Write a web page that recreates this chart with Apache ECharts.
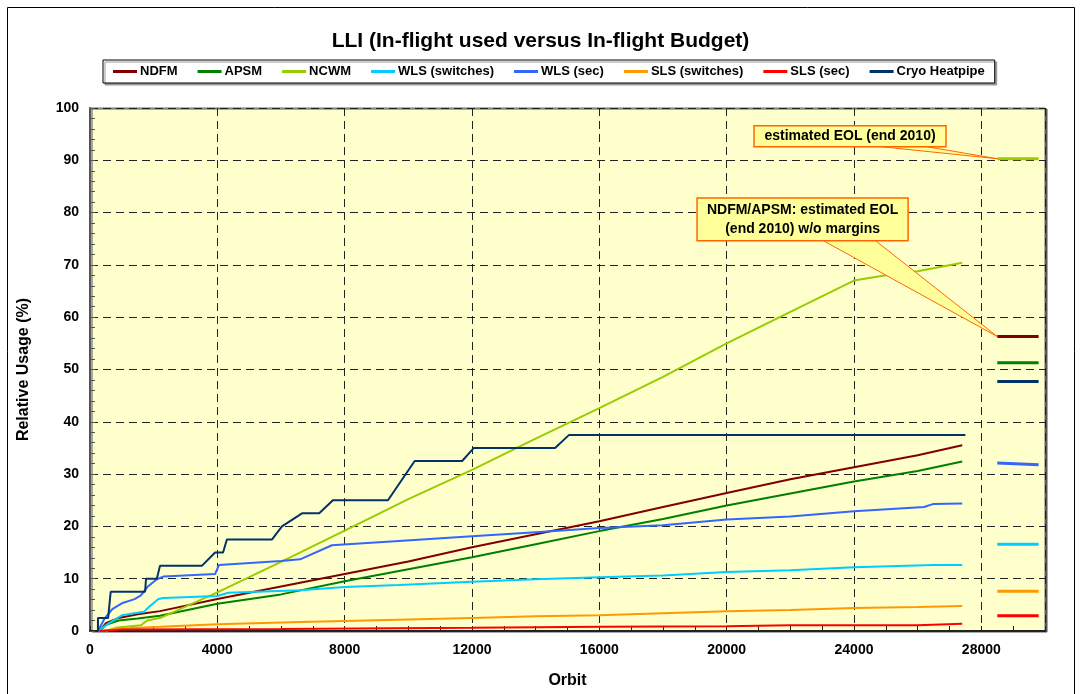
<!DOCTYPE html>
<html>
<head>
<meta charset="utf-8">
<script src="https://cdn.jsdelivr.net/npm/echarts@6/dist/echarts.min.js"></script>
<style>
  html, body { margin: 0; padding: 0; background: #fff; }
  #main { width: 1081px; height: 694px; }
</style>
</head>
<body>
<div id="main"></div>
<script>
// series names and colours (legend order)
const names = ['NDFM', 'APSM', 'NCWM', 'WLS (switches)', 'WLS (sec)', 'SLS (switches)', 'SLS (sec)', 'Cryo Heatpipe'];
const colors = ['#800000', '#008000', '#99CC00', '#00CCFF', '#3366FF', '#FF9900', '#FF0000', '#003366'];

// [orbit, relative usage %]
const ndfm = [[300, 0], [500, 1.5], [900, 2.5], [1500, 3.2], [2200, 3.8], [4000, 6.1], [6000, 8.5], [8000, 10.9], [10000, 13.3], [12000, 16], [14000, 18.5], [16000, 21], [18000, 23.7], [20000, 26.4], [22000, 29], [24000, 31.3], [26000, 33.6], [27400, 35.5]];
const apsm = [[300, 0], [500, 1.2], [900, 2.0], [1500, 2.4], [2200, 2.9], [4000, 5.2], [6000, 7.0], [8000, 9.5], [10000, 11.8], [12000, 14.1], [14000, 16.6], [16000, 19.1], [18000, 21.4], [20000, 24], [22000, 26.3], [24000, 28.6], [26000, 30.6], [27400, 32.4]];
const ncwm = [[500, 0], [800, 0.6], [1600, 1.1], [1800, 2.0], [2250, 2.6], [4000, 7.4], [6000, 13.2], [8000, 19.2], [10000, 25.2], [12000, 30.8], [14000, 36.8], [16000, 42.6], [18000, 48.6], [20000, 55], [22000, 61], [24000, 67], [25000, 68], [26000, 68.8], [27400, 70.4]];
const wlsSwitches = [[250, 0], [600, 1.5], [1000, 3.0], [1700, 3.7], [1850, 4.6], [2150, 6.1], [2300, 6.3], [4000, 6.7], [4350, 7.3], [6600, 7.8], [8000, 8.4], [9700, 8.8], [12000, 9.4], [14000, 9.9], [16000, 10.3], [18000, 10.6], [20000, 11.3], [22000, 11.6], [24000, 12.2], [26500, 12.6], [27400, 12.6]];
const wlsSec = [[250, 0], [450, 2.3], [700, 4.2], [1000, 5.3], [1400, 6.1], [1600, 6.8], [1800, 8.4], [2100, 9.9], [2300, 10.4], [3930, 10.9], [4050, 12.6], [6000, 13.4], [6600, 13.7], [7600, 16.4], [9700, 17.2], [12000, 18.1], [14000, 18.9], [16000, 19.7], [18000, 20.2], [20000, 21.3], [22000, 21.9], [24000, 22.9], [26200, 23.7], [26500, 24.3], [27400, 24.4]];
const slsSwitches = [[300, 0], [1000, 0.5], [2200, 0.8], [4000, 1.3], [6600, 1.7], [8000, 1.9], [10000, 2.2], [12000, 2.5], [14000, 2.8], [16000, 3.0], [18000, 3.4], [20000, 3.8], [22000, 4.0], [24000, 4.4], [26000, 4.6], [27400, 4.8]];
const slsSec = [[300, 0], [1000, 0.3], [6000, 0.4], [12000, 0.6], [16000, 0.8], [20000, 0.9], [22000, 1.1], [26000, 1.1], [27400, 1.4]];
const cryo = [[250, 0], [250, 2.5], [570, 2.5], [650, 7.5], [1730, 7.5], [1760, 10], [2100, 10], [2200, 12.5], [3520, 12.5], [3930, 15], [4180, 15], [4300, 17.5], [5720, 17.5], [6030, 20], [6660, 22.5], [7200, 22.5], [7630, 25], [9360, 25], [10200, 32.5], [11690, 32.5], [12060, 35], [14610, 35], [15050, 37.5], [27500, 37.5]];

const seriesData = [ndfm, apsm, ncwm, wlsSwitches, wlsSec, slsSwitches, slsSec, cryo];

// estimated EOL (end 2010) levels, drawn as short bars on the right
const eolOrbit = [28500, 29800];
const eolStart = [56.3, 51.3, 90.3, 16.6, 32.1, 7.6, 2.9, 47.7];
const eolEnd = [56.3, 51.3, 90.3, 16.6, 31.8, 7.6, 2.9, 47.7];

const font = 'Liberation Sans, Arial, sans-serif';

let myChart = echarts.init(document.getElementById('main'));

let series = [];
names.forEach(function (name, i) {
  series.push({
    name: name,
    type: 'line',
    data: seriesData[i],
    symbol: 'none',
    color: colors[i],
    lineStyle: { width: 2, color: colors[i] },
    animation: false
  });
});
names.forEach(function (name, i) {
  series.push({
    name: name,
    type: 'line',
    data: [[eolOrbit[0], eolStart[i]], [eolOrbit[1], eolEnd[i]]],
    symbol: 'none',
    color: colors[i],
    lineStyle: { width: 3, color: colors[i] },
    animation: false
  });
});
// minor ticks on the orbit axis
series.push({ type: 'line', xAxisIndex: 1, data: [], silent: true });

let dash = { color: '#222', width: 1, type: [8, 5] };

let option = {
  animation: false,
  textStyle: { fontFamily: font },
  title: {
    text: 'LLI (In-flight used versus In-flight Budget)',
    left: 'center',
    top: 26,
    textStyle: { fontFamily: font, fontSize: 21, fontWeight: 'bold', color: '#000' }
  },
  legend: {
    data: names,
    left: 103,
    top: 60,
    padding: [5, 10],
    itemGap: 20,
    itemWidth: 24,
    itemHeight: 3,
    icon: 'rect',
    backgroundColor: '#fff',
    borderColor: '#000',
    borderWidth: 1,
    shadowColor: '#999',
    shadowOffsetX: 2,
    shadowOffsetY: 2,
    textStyle: { fontFamily: font, fontSize: 13, fontWeight: 'bold', color: '#000', padding: [0, 0, 0, -2] }
  },
  grid: {
    left: 90,
    top: 108,
    right: 36,
    bottom: 62,
    show: true,
    backgroundColor: '#FFFFCC',
    borderColor: '#666',
    borderWidth: 1,
    shadowColor: '#555',
    shadowOffsetX: 2,
    shadowOffsetY: 1
  },
  xAxis: [{
    type: 'value',
    min: 0,
    max: 30000,
    interval: 4000,
    name: 'Orbit',
    nameLocation: 'middle',
    nameGap: 42,
    nameTextStyle: { fontFamily: font, fontSize: 16, fontWeight: 'bold', color: '#000' },
    axisLine: { lineStyle: { color: '#222', width: 2 } },
    axisTick: { inside: true, length: 5, lineStyle: { color: '#222' } },
    axisLabel: {
      showMaxLabel: false,
      margin: 12,
      fontFamily: font,
      fontSize: 14,
      fontWeight: 'bold',
      color: '#000',
      formatter: function (v) { return String(v); }
    },
    splitLine: { show: true, lineStyle: dash }
  }, {
    type: 'value',
    min: 0,
    max: 30000,
    interval: 1000,
    position: 'bottom',
    axisLine: { show: false },
    axisTick: { show: true, inside: true, length: 5, lineStyle: { color: '#222' } },
    axisLabel: { show: false },
    splitLine: { show: false }
  }],
  yAxis: {
    type: 'value',
    min: 0,
    max: 100,
    interval: 10,
    name: 'Relative Usage (%)',
    nameLocation: 'middle',
    nameGap: 58,
    nameTextStyle: { fontFamily: font, fontSize: 16, fontWeight: 'bold', color: '#000' },
    axisLine: { show: true, lineStyle: { color: '#555', width: 2 } },
    axisTick: { show: true, inside: true, length: 5, lineStyle: { color: '#555' } },
    minorTick: { show: true, splitNumber: 5, length: 5, lineStyle: { color: '#555' } },
    axisLabel: { margin: 11, fontFamily: font, fontSize: 14, fontWeight: 'bold', color: '#000' },
    splitLine: { show: true, lineStyle: dash }
  },
  series: series
};

myChart.setOption(option);

// callouts, anchored in data coordinates
const callouts = [
  { text: 'estimated EOL (end 2010)', box: [20860, 96.6, 26890, 92.6], base: [24250, 25920], tip: [28500, 90.3] },
  { text: 'NDFM/APSM: estimated EOL\n(end 2010) w/o margins', box: [19070, 82.8, 25700, 74.6], base: [22930, 24600], tip: [28500, 56.3] }
];

let graphics = [{
  type: 'rect',
  shape: { x: 7.5, y: 7.5, width: 1067, height: 700 },
  style: { fill: 'none', stroke: '#000', lineWidth: 1 },
  silent: true,
  z: 100
}];

callouts.forEach(function (c) {
  let p1 = myChart.convertToPixel({ gridIndex: 0 }, [c.box[0], c.box[1]]);
  let p2 = myChart.convertToPixel({ gridIndex: 0 }, [c.box[2], c.box[3]]);
  let b1 = myChart.convertToPixel({ gridIndex: 0 }, [c.base[0], c.box[3]]);
  let b2 = myChart.convertToPixel({ gridIndex: 0 }, [c.base[1], c.box[3]]);
  let t = myChart.convertToPixel({ gridIndex: 0 }, c.tip);
  graphics.push({
    type: 'polygon',
    shape: { points: [[b1[0], b1[1] - 2], [b2[0], b2[1] - 2], [t[0], t[1]]] },
    style: { fill: '#FFFF99', stroke: '#FF6600', lineWidth: 1 },
    silent: true,
    z: 100
  });
  graphics.push({
    type: 'rect',
    shape: { x: p1[0], y: p1[1], width: p2[0] - p1[0], height: p2[1] - p1[1] },
    style: { fill: '#FFFF99', stroke: '#FF6600', lineWidth: 1.5 },
    silent: true,
    z: 101
  });
  graphics.push({
    type: 'text',
    x: (p1[0] + p2[0]) / 2,
    y: (p1[1] + p2[1]) / 2,
    style: {
      text: c.text,
      fill: '#000',
      font: 'bold 14px ' + font,
      align: 'center',
      verticalAlign: 'middle',
      lineHeight: 19
    },
    silent: true,
    z: 102
  });
});

myChart.setOption({ graphic: graphics });

window.addEventListener('resize', function () {
  myChart.resize();
});
</script>
</body>
</html>
